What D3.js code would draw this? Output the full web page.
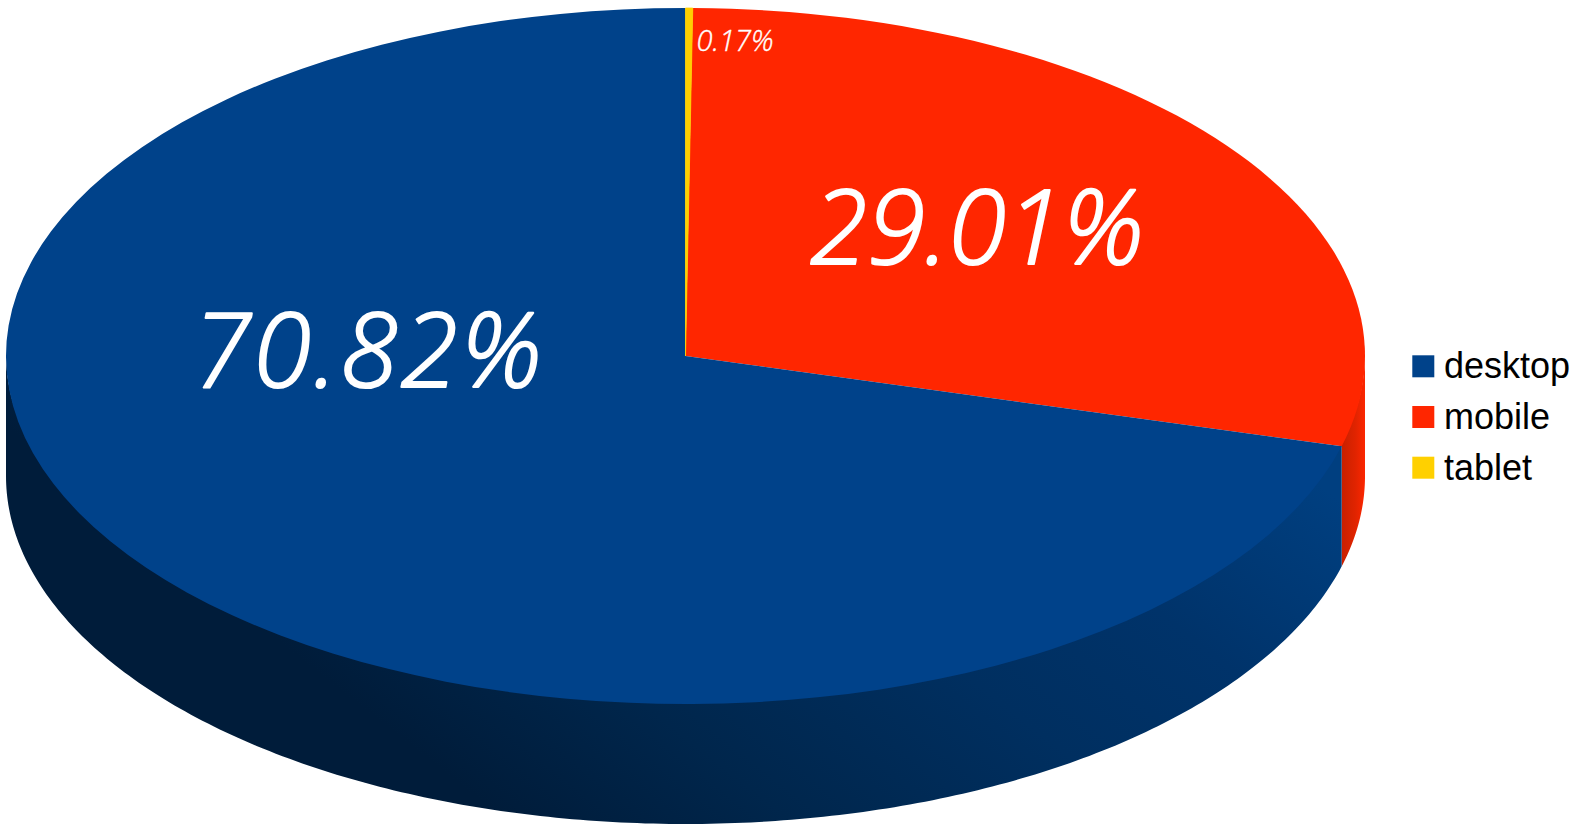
<!DOCTYPE html>
<html>
<head>
<meta charset="utf-8">
<script src="https://cdn.jsdelivr.net/npm/d3@7"></script>
<style>
html,body{margin:0;padding:0;background:#fff;overflow:hidden}
svg{display:block}
</style>
</head>
<body>
<svg id="c" width="1580" height="838"></svg>
<script>
const categories = ["tablet", "mobile", "desktop"];
const shares = [0.17, 29.01, 70.82];
const labels = ["0.17%", "29.01%", "70.82%"];
const legendOrder = ["desktop", "mobile", "tablet"];
const colors = {desktop:"#00428a", mobile:"#ff2600", tablet:"#ffd000"};

(function(){
const cx=685.5, cy=356, rx=679.5, ry=348, depth=120;
const svg=d3.select("#c");
const defs=svg.append("defs");
const mkGrad=(id,x1,y1,x2,y2,stops)=>{
  const g=defs.append("linearGradient").attr("id",id).attr("gradientUnits","userSpaceOnUse")
    .attr("x1",x1).attr("y1",y1).attr("x2",x2).attr("y2",y2);
  stops.forEach(s=>g.append("stop").attr("offset",s[0]).attr("stop-color",s[1]));
};
mkGrad("sideDesktop",480,800,954,197,[[0,"#001c3a"],[0.23,"#00264c"],[0.52,"#002f60"],[0.74,"#00336a"],[1,"#003f80"]]);
mkGrad("sideMobile",1342,500,1366,500,[[0,"#c92000"],[0.55,"#e02400"],[1,"#ff2600"]]);

const pieData=d3.pie().sort(null).value((d,i)=>shares[i])(categories);
const px=a=>cx+rx*Math.sin(a), py=a=>cy-ry*Math.cos(a);
const byName=Object.fromEntries(pieData.map(d=>[d.data,d]));

const sideGrads={desktop:"url(#sideDesktop)",mobile:"url(#sideMobile)"};
const sideRange=d=>[Math.max(d.startAngle,Math.PI/2),Math.min(d.endAngle,Math.PI*1.5)];
const sideLine=d3.line().x(p=>p[0]).y(p=>p[1]);
["mobile","desktop"].forEach(name=>{
  const [a0,a1]=sideRange(byName[name]);
  const n=240;
  const as=d3.range(n+1).map(i=>a0+(a1-a0)*i/n);
  // upper edge tucked slightly under the face so no pale seam shows at the rim
  const pts=as.map(a=>[px(a),py(a)-3]).concat(as.slice().reverse().map(a=>[px(a),py(a)+depth]));
  svg.append("path").attr("d",sideLine(pts)+"Z").attr("fill",sideGrads[name]);
});

const arc=d3.arc().innerRadius(0).outerRadius(rx);
const face=svg.append("g").attr("transform",`translate(${cx},${cy}) scale(1,${ry/rx})`);
face.selectAll("path").data(pieData).join("path")
  .attr("d",arc).attr("fill",d=>colors[d.data]);
face.append("path").datum(byName.tablet).attr("d",arc).attr("fill",colors.tablet)
  .attr("stroke",colors.tablet).attr("stroke-width",1);

const labelPos=[[735,41,29,0,0.4],[977,228,104,0,2.2],[369,351,104,3,2.2]];
svg.selectAll("text.v").data(labels).join("text").attr("class","v")
  .attr("x",(d,i)=>labelPos[i][0]).attr("y",(d,i)=>labelPos[i][1])
  .attr("dy","0.35em").attr("text-anchor","middle")
  .attr("font-family","'Open Sans'").attr("font-style","italic").attr("font-weight",300)
  .attr("letter-spacing",(d,i)=>labelPos[i][3])
  .attr("stroke","#fff").attr("stroke-width",(d,i)=>labelPos[i][4]).attr("stroke-linejoin","round")
  .attr("font-size",(d,i)=>labelPos[i][2]).attr("fill","#fff").text(d=>d);

const yLeg=d3.scalePoint().domain(legendOrder).range([366.3,467.7]);
const leg=svg.append("g");
leg.selectAll("rect").data(legendOrder).join("rect")
  .attr("x",1412.3).attr("y",d=>yLeg(d)-11).attr("width",22).attr("height",22).attr("fill",d=>colors[d]);
leg.selectAll("text").data(legendOrder).join("text")
  .attr("x",1444).attr("y",d=>yLeg(d)+12).attr("font-family","'Liberation Sans'")
  .attr("font-size",36).attr("fill","#000").text(d=>d);
})();
</script>
</body>
</html>
